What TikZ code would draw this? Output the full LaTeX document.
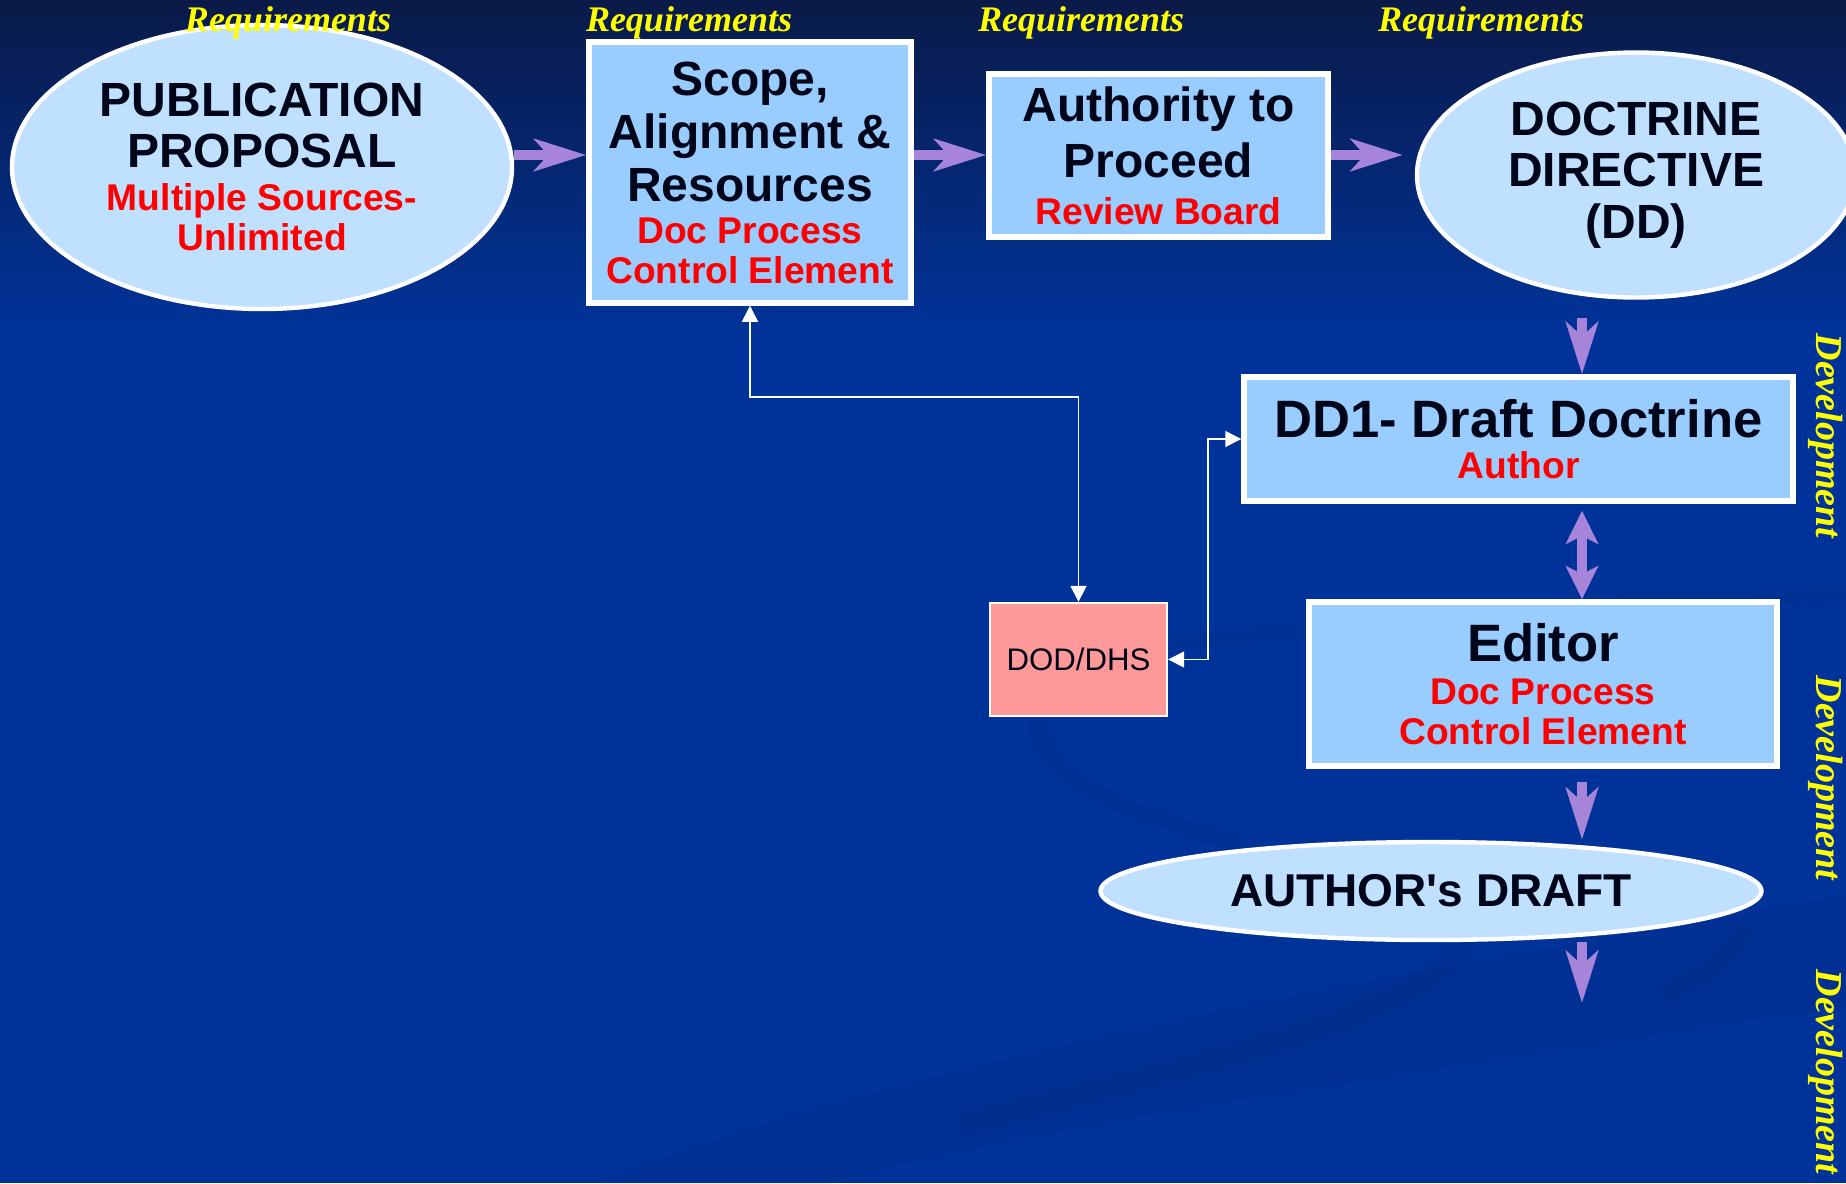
\documentclass[tikz,border=0pt]{standalone}
\usepackage{fontspec}
\setmainfont{Liberation Sans}
\newfontfamily\serifface{Liberation Serif}
\usetikzlibrary{arrows.meta,shapes.geometric,calc}

\definecolor{bgblue}{HTML}{003399}
\definecolor{bgtop}{HTML}{0A1A48}
\definecolor{swoosh}{HTML}{002D8A}
\definecolor{boxfill}{HTML}{99CCFF}
\definecolor{ovalfill}{HTML}{BFE0FF}
\definecolor{lav}{HTML}{A584DA}
\definecolor{pinkfill}{HTML}{FF9999}
\definecolor{ink}{HTML}{00061A}
\definecolor{redtxt}{HTML}{FF0000}
\definecolor{gold}{HTML}{FFFF00}

% smaller red role line inside a shape
\newcommand\roleline[1]{{\color{redtxt}\fontsize{18.6}{20}\selectfont #1}}

\tikzset{
  box/.style={rectangle, draw=white, line width=2.75pt, fill=boxfill,
    inner sep=0pt, align=center, text=ink},
  oval/.style={ellipse, draw=white, line width=2.2pt, fill=ovalfill,
    inner sep=0pt, align=center, text=ink},
  pinkbox/.style={rectangle, draw=white, line width=1.2pt, fill=pinkfill,
    inner sep=0pt, align=center, text=ink, font=\fontsize{15.6}{17}\selectfont},
  fat/.style={draw=lav, line width=5pt,
    -{Stealth[length=26pt,width=16pt,inset=7pt]}},
  fatboth/.style={draw=lav, line width=5pt,
    {Stealth[length=16.5pt,width=16pt,inset=4pt]}-{Stealth[length=16.5pt,width=16pt,inset=4pt]}},
  wire/.style={draw=white, line width=0.8pt,
    {Triangle[length=8pt,width=8pt]}-{Triangle[length=8pt,width=8pt]}},
  phase/.style={text=gold, inner sep=0pt,
    font=\serifface\bfseries\itshape\fontsize{18}{20}\selectfont},
  sidephase/.style={phase, rotate=-90,
    font=\serifface\bfseries\itshape\fontsize{19}{21}\selectfont},
}

\begin{document}
\begin{tikzpicture}[x=0.5pt,y=-0.5pt]
\useasboundingbox (0,0) rectangle (1846,1183);

% background
\fill[bgblue] (0,0) rectangle (1846,1183);
\shade[top color=bgtop, bottom color=bgblue] (0,0) rectangle (1846,330);

% faint swooshes in the backdrop
\fill[swoosh, opacity=0.4] (600,1183) .. controls (900,1060) and (1400,975) .. (1846,895)
  -- (1846,1005) .. controls (1400,1075) and (1000,1130) .. (830,1183) -- cycle;
\draw[swoosh, opacity=0.35, line width=8pt] (1036,720) .. controls (1045,780) and (1110,805) .. (1240,845);
\draw[swoosh, opacity=0.35, line width=12pt] (1470,935) .. controls (1430,1010) and (1260,1050) .. (960,1125);
\draw[swoosh, opacity=0.35, line width=10pt] (1745,925) .. controls (1730,960) and (1700,980) .. (1660,995);
\draw[swoosh, opacity=0.3, line width=8pt] (1100,655) .. controls (1400,610) and (1650,600) .. (1846,595);

% process shapes
\node[oval, minimum width=250pt, minimum height=142pt,
      font=\bfseries\fontsize{24}{25.5}\selectfont] (pub) at (262,167)
  {PUBLICATION\\PROPOSAL\\[-4pt]\roleline{Multiple Sources-}\\[-5.5pt]\roleline{Unlimited}};

\node[box, minimum width=161pt, minimum height=130.5pt,
      font=\bfseries\fontsize{24}{26.5}\selectfont] (scope) at (750,172.5)
  {Scope,\\Alignment \&\\Resources\\[-5.5pt]\roleline{Doc Process}\\[-6.5pt]\roleline{Control Element}};

\node[box, minimum width=169.5pt, minimum height=81.5pt,
      font=\bfseries\fontsize{24}{28}\selectfont] (auth) at (1158.5,155.5)
  {Authority to\\Proceed\\[-4.5pt]\roleline{Review Board}};

\node[oval, minimum width=219pt, minimum height=122.5pt,
      font=\bfseries\fontsize{24}{25.75}\selectfont] (dd) at (1636,175)
  {DOCTRINE\\DIRECTIVE\\(DD)};

\node[box, minimum width=274.5pt, minimum height=62pt,
      font=\bfseries\fontsize{26.3}{28}\selectfont] (dd1) at (1518.5,439)
  {DD1- Draft Doctrine\\[-7.5pt]\roleline{Author}};

\node[box, minimum width=234pt, minimum height=82pt,
      font=\bfseries\fontsize{26.3}{28}\selectfont] (editor) at (1543,684)
  {Editor\\[-6.5pt]\roleline{Doc Process}\\[-8pt]\roleline{Control Element}};

\node[pinkbox, minimum width=88.5pt, minimum height=56.5pt] (dod) at (1078.5,659.5)
  {DOD/DHS};

\node[oval, minimum width=330.5pt, minimum height=49pt,
      font=\bfseries\fontsize{23}{25}\selectfont] (draft) at (1431,891)
  {AUTHOR\textquotesingle s DRAFT};

% flow arrows
\coordinate (row) at (0,155);
\coordinate (col) at (1582,0);
\coordinate (exit) at (1582,1003);
\draw[fat] (pub.east |- row) -- (scope.west |- row);
\draw[fat] (scope.east |- row) -- (auth.west |- row);
\draw[fat, shorten >=6pt] (auth.east |- row) -- (dd.west |- row);
\draw[fat, shorten <=9pt] (col |- dd.south) -- (col |- dd1.north);
\draw[fatboth, shorten <=3.5pt] (col |- dd1.south) -- (col |- editor.north);
\draw[fat, shorten <=6.5pt] (col |- editor.south) -- (col |- draft.north);
\draw[fat] (col |- draft.south) -- (exit);

% coordination links
\coordinate (linkA) at (900,397);
\draw[wire] (scope.south) |- (linkA) -| (dod.north);
\draw[wire] (dod.east) -- ++(20pt,0) |- (dd1.west);

% phase labels
\node[phase] (req1) at (288,23) {Requirements};
\node[phase] (req2) at (689,23) {Requirements};
\node[phase] (req3) at (1081,23) {Requirements};
\node[phase] (req4) at (1481,23) {Requirements};
\node[sidephase] (dev1) at (1826,436) {Development};
\node[sidephase] (dev2) at (1826,778) {Development};
\node[sidephase] (dev3) at (1826,1072) {Development};
\end{tikzpicture}
\end{document}
